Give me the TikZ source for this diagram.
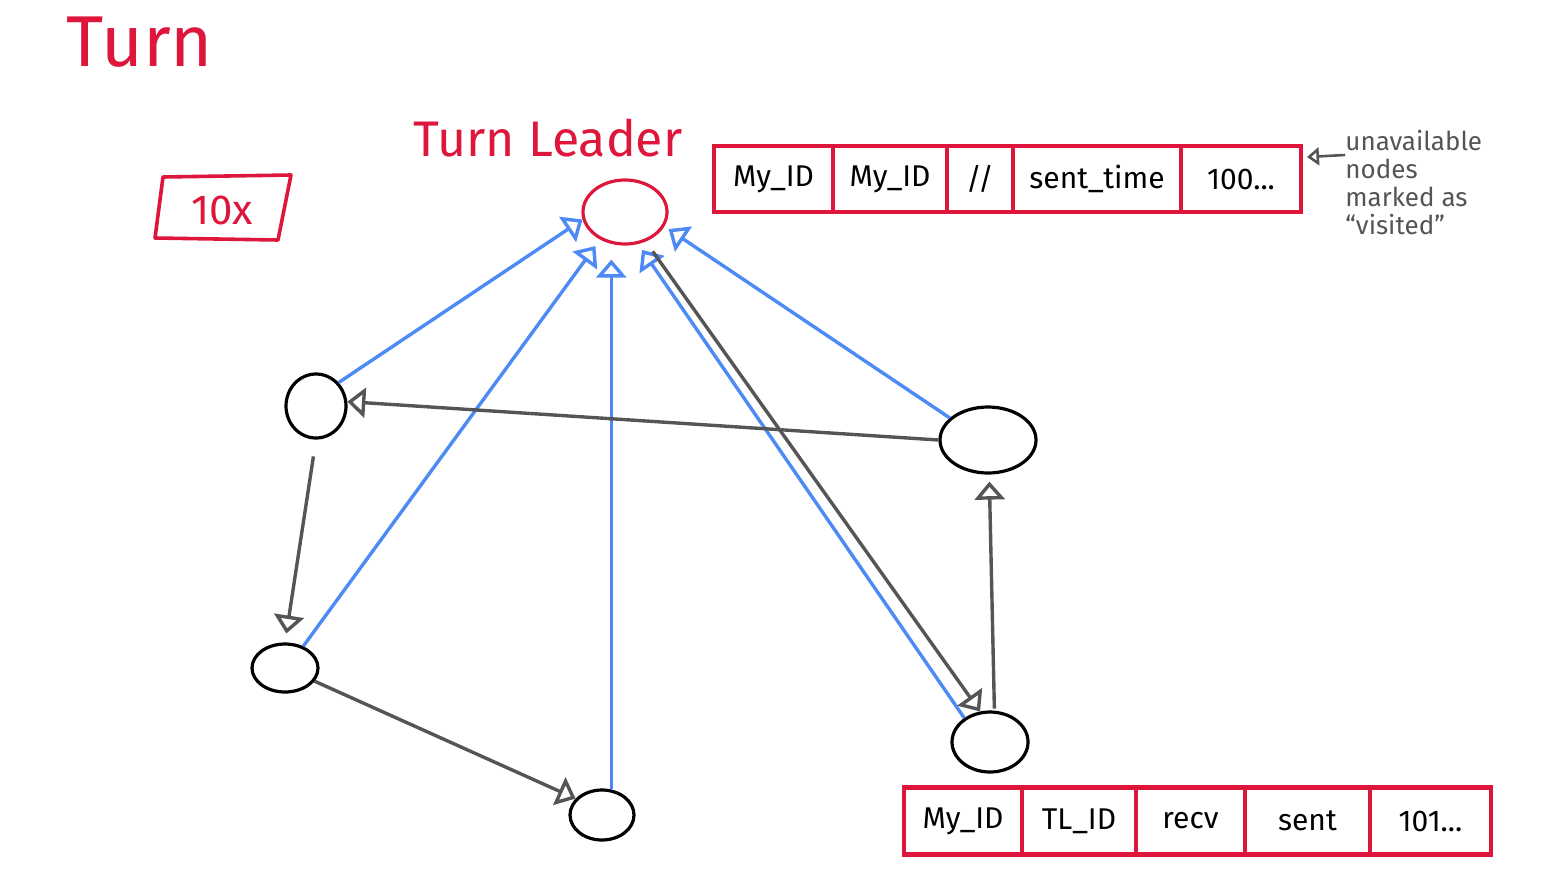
\documentclass[tikz,border=0pt]{standalone}
\usepackage{fontspec}
\setmainfont{Fira Sans}
\usetikzlibrary{arrows.meta,shapes.geometric,calc}
\definecolor{inkred}{RGB}{222,22,60}
\definecolor{inkblue}{RGB}{77,138,245}
\definecolor{inkgray}{RGB}{85,85,85}

\begin{document}
\begin{tikzpicture}[x=0.5pt,y=-0.5pt,
  vertex/.style={ellipse,draw,line width=1.6pt,inner sep=0pt},
  cell/.style={draw=inkred,line width=2.3pt,inner sep=0pt,outer sep=0pt,anchor=west,
    font=\fontsize{15}{18}\selectfont},
  tip/.style={-{Triangle[open,length=9pt,width=15pt]}},
  msg/.style={tip,draw=inkblue,line width=1.7pt},
  pass/.style={tip,draw=inkgray,line width=1.7pt}]
\useasboundingbox (0,0) rectangle (1550,872);

% headings
\node[text=inkred,font=\fontsize{36}{40}\selectfont] (title) at (140,42) {Turn};
\node[text=inkred,font=\fontsize{25}{28}\selectfont] (tlname) at (548,138) {Turn Leader};

% repetition box
\node[text=inkred,font=\fontsize{21}{24}\selectfont] (reps) at (222,210) {10x};
\draw[inkred,line width=1.8pt,line join=round]
  (163,177) -- (291,175) -- (278,240) -- (155,238) -- cycle;

% nodes
\node[vertex,draw=inkred,minimum width=42pt,minimum height=32pt] (L) at (625,212) {};
\node[vertex,minimum width=30pt,minimum height=32pt] (A) at (316,406) {};
\node[vertex,minimum width=48pt,minimum height=33pt] (B) at (988,440) {};
\node[vertex,minimum width=33pt,minimum height=24pt] (C) at (285,668) {};
\node[vertex,minimum width=32pt,minimum height=25pt] (D) at (602,815) {};
\node[vertex,minimum width=38pt,minimum height=30pt] (E) at (990,742) {};

% replies to the turn leader
\draw[msg] (A.46) -- (L.190);
\draw[msg,shorten >=4pt] (C.50) -- (L.228);
\draw[msg,shorten >=7pt] (D.70) -- (D.70 |- L.south);
\draw[msg,shorten >=3.5pt] (E.137) -- (L.292);
\draw[msg,shorten >=2.5pt] (B.150) -- (L.-20);

% the token passing round the ring
\draw[pass,shorten <=6pt] (L.305) -- (E.108);
\draw[pass] (B.180) -- (A.8);
\draw[pass,shorten <=8.5pt,shorten >=4.5pt] (A.south) -- (C.north);
\draw[pass] (C.-24) -- (D.148);
\draw[pass,shorten <=1pt,shorten >=3.5pt] (E.82) -- (B.-88);

% message sent by the turn leader
\node[cell,minimum height=33pt,minimum width=59.5pt] (t1) at (714,179) {My\_ID};
\node[cell,minimum height=33pt,minimum width=57pt] (t2) at (t1.east) {My\_ID};
\node[cell,minimum height=33pt,minimum width=33pt] (t3) at (t2.east) {//};
\node[cell,minimum height=33pt,minimum width=84pt] (t4) at (t3.east) {sent\_time};
\node[cell,minimum height=33pt,minimum width=60pt] (t5) at (t4.east) {100...};

% reply message
\node[cell,minimum height=33.5pt,minimum width=59pt] (r1) at (904,821) {My\_ID};
\node[cell,minimum height=33.5pt,minimum width=57pt] (r2) at (r1.east) {TL\_ID};
\node[cell,minimum height=33.5pt,minimum width=54.5pt] (r3) at (r2.east) {recv};
\node[cell,minimum height=33.5pt,minimum width=62.5pt] (r4) at (r3.east) {sent};
\node[cell,minimum height=33.5pt,minimum width=60.5pt] (r5) at (r4.east) {101...};

% side note
\node[anchor=north west,align=left,inner sep=0pt,text=inkgray,
  font=\fontsize{13}{14}\selectfont] (note) at (1345,130)
  {unavailable\\nodes\\marked as\\“visited”};
\draw[-{Triangle[open,length=6pt,width=9pt]},draw=inkgray,line width=1.3pt]
  ([yshift=-12.5pt]note.north west) -- ([xshift=3pt,yshift=11pt]t5.east);
\end{tikzpicture}
\end{document}
